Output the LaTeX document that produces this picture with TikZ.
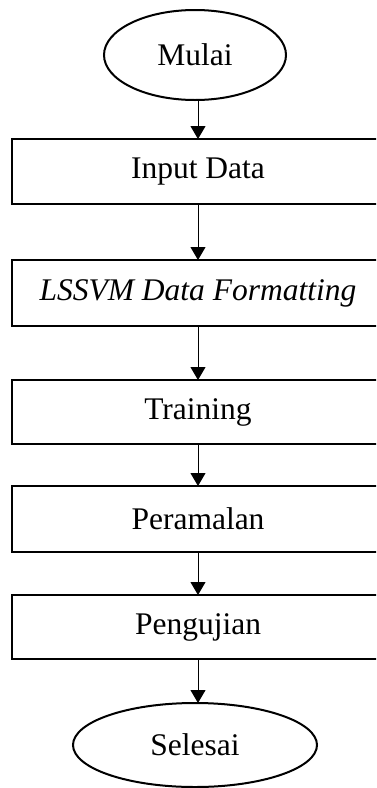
\documentclass[tikz,border=0pt]{standalone}
\usepackage{fontspec}
\setmainfont{Liberation Serif}
\usetikzlibrary{shapes.geometric,arrows.meta}
\begin{document}
\begin{tikzpicture}[x=1pt,y=-1pt,
  every node/.style={font=\fontsize{31.5}{36}\selectfont, inner sep=0pt, outer sep=0pt},
  term/.style={ellipse, draw, line width=2pt},
  proc/.style={rectangle, draw, line width=2.2pt, minimum width=372pt},
  flow/.style={-{Triangle[width=15pt,length=13pt]}, line width=1pt}]
\useasboundingbox (0,0) rectangle (376,788);
\clip (0,0) rectangle (376,788);
\node[term, minimum width=182pt, minimum height=90pt] (e1) at (195,55) {Mulai};
\node[proc, minimum height=65pt] (b1) at (198,171.5) {Input Data};
\node[proc, minimum height=66pt] (b2) at (198,293) {\itshape LSSVM Data Formatting};
\node[proc, minimum height=64pt] (b3) at (198,412) {Training};
\node[proc, minimum height=66pt] (b4) at (198,519) {Peramalan};
\node[proc, minimum height=64pt] (b5) at (198,627) {Pengujian};
\node[term, minimum width=244pt, minimum height=84pt] (e2) at (195,745) {Selesai};
\draw[flow] (e1.south -| b1.north) -- (b1.north);
\draw[flow] (b1.south) -- (b2.north);
\draw[flow] (b2.south) -- (b3.north);
\draw[flow] (b3.south) -- (b4.north);
\draw[flow] (b4.south) -- (b5.north);
\draw[flow] (b5.south) -- (e2.north -| b5.south);
\end{tikzpicture}
\end{document}
